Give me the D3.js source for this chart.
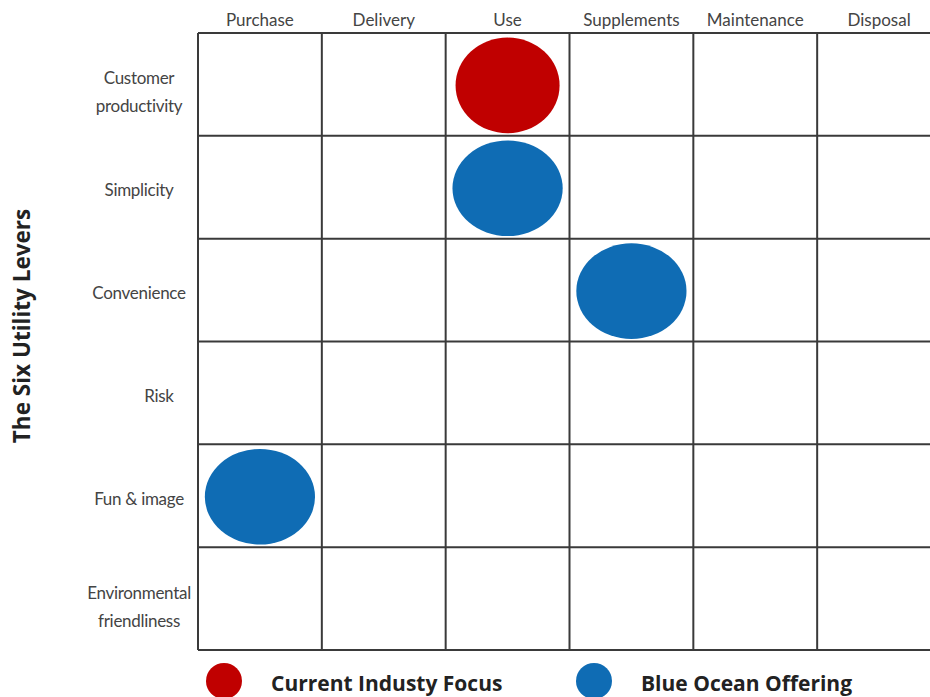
<!DOCTYPE html>
<html><head><meta charset="utf-8">
<script src="https://cdn.jsdelivr.net/npm/d3@7"></script>
<style>html,body{margin:0;padding:0;background:#fff;}</style>
</head><body>
<svg id="chart" width="930" height="697"></svg>
<script>
const stages = ["Purchase","Delivery","Use","Supplements","Maintenance","Disposal"];
const levers = [["Customer","productivity"],["Simplicity"],["Convenience"],["Risk"],["Fun & image"],["Environmental","friendliness"]];
const leverKeys = ["Customer productivity","Simplicity","Convenience","Risk","Fun & image","Environmental friendliness"];
const bubbleStage = ["Use","Use","Supplements","Purchase"];
const bubbleLever = ["Customer productivity","Simplicity","Convenience","Fun & image"];
const bubbleType = ["current","blue","blue","blue"];
const legendKeys = ["current","blue"];
const legendLabels = ["Current Industy Focus","Blue Ocean Offering"];
const yTitle = "The Six Utility Levers";

const svg = d3.select("#chart");
const font = "Lato, 'Open Sans', 'Liberation Sans', sans-serif";
const boldFont = "'Open Sans', 'Liberation Sans', sans-serif";
const x = d3.scaleBand().domain(stages).range([198, 941]).padding(0);
const y = d3.scaleBand().domain(leverKeys).range([33, 650]).padding(0);
const color = d3.scaleOrdinal().domain(legendKeys).range(["#c00000","#0f6cb4"]);

// bubbles
const bubbles = bubbleStage.map((s,i)=>({stage:s, lever:bubbleLever[i], type:bubbleType[i]}));
svg.append("g").selectAll("ellipse").data(bubbles).join("ellipse")
  .attr("cx", d=>x(d.stage)+x.bandwidth()/2)
  .attr("cy", d=>y(d.lever)+y.bandwidth()/2+1)
  .attr("rx", d=>x.bandwidth()*(d.type==="current"?0.42:0.445))
  .attr("ry", y.bandwidth()*0.465)
  .attr("fill", d=>color(d.type));

// grid
const grid = svg.append("g").attr("stroke","#3a3a3a").attr("stroke-width",2).attr("fill","none");
const xs = stages.map(s=>x(s)).concat([x.range()[1]]);
const ys = leverKeys.map(l=>y(l)).concat([y.range()[1]]);
grid.selectAll("line.v").data(xs).join("line").attr("class","v")
  .attr("x1",d=>d).attr("x2",d=>d).attr("y1",y.range()[0]).attr("y2",y.range()[1]);
grid.selectAll("line.h").data(ys).join("line").attr("class","h")
  .attr("y1",d=>d).attr("y2",d=>d).attr("x1",x.range()[0]).attr("x2",x.range()[1]);

// column headers
svg.append("g").selectAll("text").data(stages).join("text")
  .attr("x", d=>x(d)+x.bandwidth()/2).attr("y", 26)
  .attr("text-anchor","middle").attr("font-family",font).attr("font-size",17)
  .attr("fill","#444").text(d=>d);

// row labels
const rl = svg.append("g").selectAll("text").data(levers).join("text")
  .attr("text-anchor","middle").attr("font-family",font).attr("font-size",17)
  .attr("fill","#444").attr("letter-spacing","-0.3")
  .attr("transform",(d,i)=>`translate(${i===3?159:139},${y(leverKeys[i])+y.bandwidth()/2})`);
rl.each(function(d){
  const t = d3.select(this);
  const n = d.length;
  d.forEach((line,j)=>{
    t.append("tspan").attr("x",0).attr("y",(j-(n-1)/2)*28+(n>1?14:9)).text(line);
  });
});

// y title
svg.append("text").attr("transform","translate(30,326) rotate(-90)")
  .attr("text-anchor","middle").attr("font-family",boldFont).attr("font-size",22.5)
  .attr("font-weight","bold").attr("fill","#222").text(yTitle);

// legend
const lx = [224, 594];
const lg = svg.append("g").selectAll("g").data(legendKeys).join("g")
  .attr("transform",(d,i)=>`translate(${lx[i]},681)`);
lg.append("circle").attr("r",18).attr("fill",d=>color(d));
lg.append("text").attr("x",47).attr("y",10).attr("font-family",boldFont).attr("font-size",21)
  .attr("font-weight","bold").attr("fill","#222").text((d,i)=>legendLabels[i]);
</script>
</body></html>
